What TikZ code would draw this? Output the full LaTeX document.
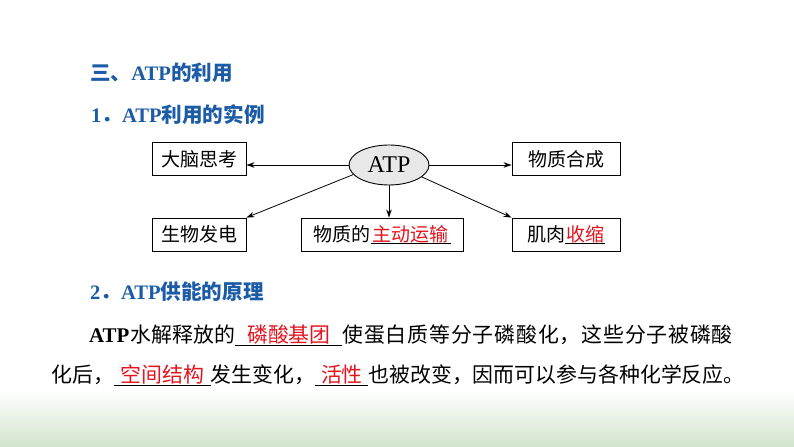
\documentclass[tikz,border=0pt]{standalone}
\usepackage{fontspec}
\setmainfont{Noto Sans CJK SC}
\newfontfamily\tnr{Liberation Serif}
\newfontfamily\spreadcjk[LetterSpace=4]{Noto Sans CJK SC}
\usetikzlibrary{arrows.meta,positioning,shapes.geometric}

\definecolor{headblue}{RGB}{28,92,166}
\definecolor{keyred}{RGB}{228,20,30}
\definecolor{bggreen}{RGB}{210,228,204}

\newcommand{\fillin}[2]{\leavevmode\rlap{\rule[-3bp]{#1}{0.8bp}}\makebox[#1]{\color{keyred}#2}}

\begin{document}
\begin{tikzpicture}[
  x=1bp, y=-1bp,
  heading/.style={
    anchor=base west,
    inner sep=0pt,
    text=headblue,
    font=\fontsize{20.6bp}{24bp}\selectfont\bfseries
  },
  body/.style={
    anchor=base west,
    inner sep=0pt,
    font=\fontsize{20.9bp}{25bp}\selectfont
  },
  box/.style={
    draw=black,
    line width=0.9bp,
    minimum height=33bp,
    inner sep=0pt,
    font=\fontsize{19bp}{22bp}\selectfont
  },
  hub/.style={
    ellipse,
    draw=black,
    line width=0.9bp,
    fill=black!9,
    minimum width=80bp,
    minimum height=40bp,
    inner sep=0pt,
    font=\tnr\fontsize{24bp}{26bp}\selectfont
  },
  arrow/.style={-{Stealth[length=8bp,width=5.5bp]}, line width=0.8bp, draw=black}
]
\useasboundingbox (0,0) rectangle (794,447);
\fill[white] (0,0) rectangle (794,447);
\shade[top color=white, bottom color=bggreen] (0,390) rectangle (794,447);

\node[heading] (title) at (90,81) {三、{\tnr ATP}的利用};
\node[heading] (sub1) at (91,123) {{\tnr 1}．{\tnr ATP}利用的实例};

\node[hub] (atp) at (389,165) {ATP};
\node[box, minimum width=94bp] (brain) at (199,159) {大脑思考};
\node[box, minimum width=108bp] (synth) at (566,159) {物质合成};
\node[box, minimum width=94bp] (power) at (199,234.5) {生物发电};
\node[box, minimum width=162bp] (transport) at (382,234.5) {物质的\fillin{80bp}{主动运输}};
\node[box, minimum width=108bp] (muscle) at (566,234.5) {肌肉\fillin{40bp}{收缩}};

\draw[arrow] (atp.west) -- (atp.west -| brain.east);
\draw[arrow] (atp.east) -- (atp.east -| synth.west);
\draw[arrow] (atp.south) -- (atp.south |- transport.north);
\foreach \a/\b in {atp.195/power.north east,atp.-20/muscle.north west}
  \draw[arrow] (\a) -- (\b);

\node[heading] (sub2) at (90,300) {{\tnr 2}．{\tnr ATP}供能的原理};

\node[body] (line1) at (89,343) {{\tnr\bfseries ATP}\hspace{1.5bp}水解释放的\fillin{107bp}{磷酸基团}{\spreadcjk 使蛋白质等分子磷酸化，这些分子被磷酸}};
\node[body] (line2) at (51,383) {化后，\fillin{97bp}{空间结构}发生变化，\fillin{53bp}{活性}也被改变，因而可以参与各种化学反应。};

\end{tikzpicture}
\end{document}
